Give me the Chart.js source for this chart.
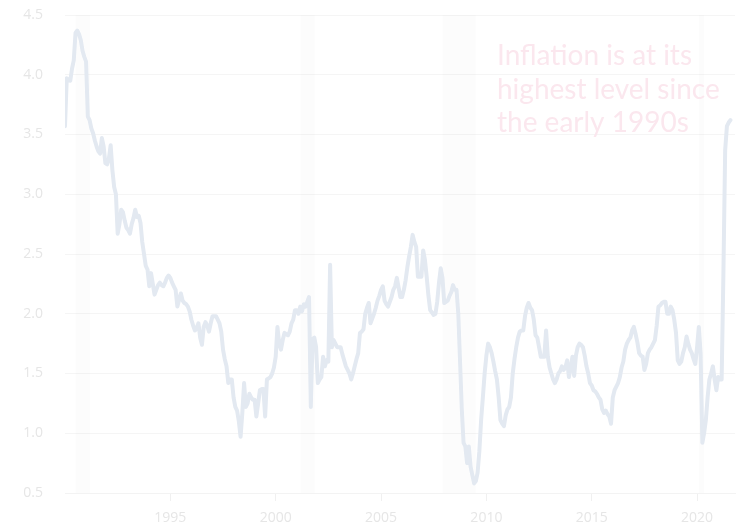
<!DOCTYPE html>
<html>
<head>
<meta charset="utf-8">
<script src="https://cdn.jsdelivr.net/npm/chart.js@4"></script>
<style>
  html, body { margin: 0; padding: 0; background: #ffffff; }
  canvas { display: block; }
</style>
</head>
<body>
<canvas id="chart" width="736" height="528"></canvas>
<script>
// Monthly year-over-year inflation, Jan 1990 - Aug 2021
const startYear = 1990;
const inflation = [
    // 1990
    3.57, 3.97, 3.96, 3.95, 4.05, 4.12, 4.35, 4.37, 4.34, 4.29, 4.20, 4.15,
    // 1991
    4.11, 3.65, 3.62, 3.55, 3.51, 3.45, 3.40, 3.36, 3.34, 3.47, 3.40, 3.26,
    // 1992
    3.25, 3.30, 3.41, 3.20, 3.06, 3.00, 2.67, 2.75, 2.87, 2.85, 2.78, 2.72,
    // 1993
    2.70, 2.67, 2.75, 2.80, 2.87, 2.81, 2.82, 2.76, 2.60, 2.50, 2.40, 2.37,
    // 1994
    2.23, 2.34, 2.25, 2.16, 2.20, 2.24, 2.26, 2.24, 2.23, 2.26, 2.30, 2.32,
    // 1995
    2.30, 2.26, 2.23, 2.20, 2.06, 2.12, 2.17, 2.11, 2.09, 2.08, 2.06, 2.02,
    // 1996
    1.95, 1.90, 1.86, 1.88, 1.92, 1.80, 1.74, 1.89, 1.93, 1.90, 1.85, 1.92,
    // 1997
    1.98, 1.98, 1.98, 1.95, 1.92, 1.85, 1.70, 1.62, 1.56, 1.42, 1.45, 1.45,
    // 1998
    1.30, 1.22, 1.19, 1.10, 0.97, 1.17, 1.42, 1.22, 1.25, 1.33, 1.30, 1.28,
    // 1999
    1.28, 1.14, 1.25, 1.36, 1.37, 1.37, 1.14, 1.45, 1.46, 1.47, 1.50, 1.55,
    // 2000
    1.64, 1.89, 1.75, 1.70, 1.78, 1.84, 1.83, 1.82, 1.85, 1.92, 1.95, 2.03,
    // 2001
    2.03, 2.00, 2.06, 2.02, 2.08, 2.06, 2.10, 2.14, 1.22, 1.79, 1.80, 1.72,
    // 2002
    1.42, 1.45, 1.47, 1.64, 1.56, 1.61, 1.60, 2.41, 1.72, 1.78, 1.75, 1.72,
    // 2003
    1.72, 1.72, 1.66, 1.61, 1.56, 1.53, 1.50, 1.45, 1.50, 1.56, 1.62, 1.67,
    // 2004
    1.84, 1.85, 1.87, 2.00, 2.05, 2.09, 1.92, 1.96, 2.00, 2.05, 2.11, 2.15,
    // 2005
    2.20, 2.23, 2.11, 2.08, 2.06, 2.10, 2.14, 2.20, 2.23, 2.30, 2.22, 2.14,
    // 2006
    2.14, 2.20, 2.28, 2.39, 2.48, 2.56, 2.66, 2.60, 2.56, 2.31, 2.31, 2.31,
    // 2007
    2.53, 2.45, 2.31, 2.15, 2.03, 2.01, 1.99, 2.00, 2.10, 2.26, 2.38, 2.30,
    // 2008
    2.09, 2.10, 2.11, 2.15, 2.18, 2.24, 2.20, 2.20, 2.00, 1.60, 1.20, 0.92,
    // 2009
    0.89, 0.75, 0.89, 0.72, 0.65, 0.58, 0.60, 0.67, 0.85, 1.11, 1.30, 1.50,
    // 2010
    1.65, 1.75, 1.72, 1.67, 1.60, 1.52, 1.45, 1.30, 1.11, 1.08, 1.06, 1.15,
    // 2011
    1.20, 1.22, 1.30, 1.50, 1.62, 1.72, 1.80, 1.85, 1.86, 1.86, 1.98, 2.05,
    // 2012
    2.09, 2.05, 2.03, 1.95, 1.82, 1.80, 1.72, 1.64, 1.64, 1.64, 1.86, 1.64,
    // 2013
    1.55, 1.50, 1.45, 1.42, 1.45, 1.50, 1.52, 1.56, 1.53, 1.55, 1.61, 1.47,
    // 2014
    1.55, 1.64, 1.48, 1.65, 1.72, 1.75, 1.74, 1.72, 1.65, 1.56, 1.50, 1.42,
    // 2015
    1.40, 1.36, 1.35, 1.33, 1.30, 1.28, 1.20, 1.17, 1.19, 1.16, 1.14, 1.08,
    // 2016
    1.30, 1.36, 1.39, 1.42, 1.47, 1.55, 1.60, 1.70, 1.75, 1.78, 1.80, 1.86,
    // 2017
    1.89, 1.83, 1.76, 1.67, 1.65, 1.64, 1.53, 1.58, 1.67, 1.70, 1.72, 1.75,
    // 2018
    1.78, 1.90, 2.06, 2.07, 2.09, 2.10, 2.10, 2.00, 2.00, 2.06, 2.03, 1.95,
    // 2019
    1.84, 1.61, 1.58, 1.60, 1.67, 1.72, 1.81, 1.75, 1.70, 1.67, 1.62, 1.58,
    // 2020
    1.72, 1.89, 1.67, 0.92, 1.00, 1.11, 1.30, 1.45, 1.50, 1.56, 1.45, 1.36,
    // 2021
    1.47, 1.45, 1.45, 2.34, 3.37, 3.57, 3.60, 3.62
];

// Recessions (decimal years)
const recessionStart = [1990.5, 2001.17, 2007.92, 2020.08];
const recessionEnd = [1991.2, 2001.85, 2009.5, 2020.33];

const xTickYears = [1995, 2000, 2005, 2010, 2015, 2020];
const annotationLines = ['Inflation is at its', 'highest level since', 'the early 1990s'];

const points = inflation.map((v, i) => ({ x: startYear + i / 12, y: v }));

// shaded recession bands behind the line
const recessionBands = {
    id: 'recessionBands',
    beforeDatasetsDraw(chart) {
        const { ctx, chartArea, scales } = chart;
        ctx.save();
        ctx.fillStyle = 'rgba(0, 0, 0, 0.01)';
        recessionStart.forEach((s, i) => {
            const x1 = scales.x.getPixelForValue(s);
            const x2 = scales.x.getPixelForValue(recessionEnd[i]);
            ctx.fillRect(x1, chartArea.top, x2 - x1, chartArea.bottom - chartArea.top);
        });
        ctx.restore();
    }
};

// text note in the upper right
const note = {
    id: 'note',
    afterDraw(chart) {
        const { ctx } = chart;
        ctx.save();
        ctx.font = '28px Lato';
        ctx.fillStyle = '#fbe7ee';
        ctx.textBaseline = 'alphabetic';
        annotationLines.forEach((line, i) => {
            ctx.fillText(line, 497, 65 + i * 33.5);
        });
        ctx.restore();
    }
};

new Chart(document.getElementById('chart'), {
    type: 'line',
    data: {
        datasets: [{
            data: points,
            borderColor: '#e3e9f1',
            borderWidth: 4,
            borderJoinStyle: 'round',
            borderCapStyle: 'round',
            pointRadius: 0,
            tension: 0,
            fill: false
        }]
    },
    options: {
        responsive: false,
        animation: false,
        layout: { padding: { top: 15, right: 1, left: 0, bottom: 0 } },
        plugins: {
            legend: { display: false },
            tooltip: { enabled: false }
        },
        scales: {
            x: {
                type: 'linear',
                min: 1990,
                max: 2021.8,
                afterBuildTicks: scale => {
                    scale.ticks = xTickYears.map(v => ({ value: v }));
                },
                afterFit: scale => { scale.height = 35; },
                grid: {
                    drawOnChartArea: false,
                    drawTicks: true,
                    tickLength: 8,
                    color: '#f0f0f0'
                },
                border: { display: true, color: '#f3f3f3' },
                ticks: {
                    color: '#e6e6e6',
                    font: { family: 'Open Sans', size: 14 },
                    padding: 9,
                    maxRotation: 0,
                    callback: v => String(v)
                }
            },
            y: {
                min: 0.5,
                max: 4.5,
                afterFit: scale => {
                    scale.width = 65;
                    scale.paddingTop = 0;
                    scale.paddingBottom = 0;
                },
                grid: { color: '#f5f5f5', drawTicks: false },
                border: { display: false },
                ticks: {
                    stepSize: 0.5,
                    color: '#e6e6e6',
                    font: { family: 'Open Sans', size: 14 },
                    padding: 22,
                    callback: v => v.toFixed(1)
                }
            }
        }
    },
    plugins: [recessionBands, note]
});
</script>
</body>
</html>
